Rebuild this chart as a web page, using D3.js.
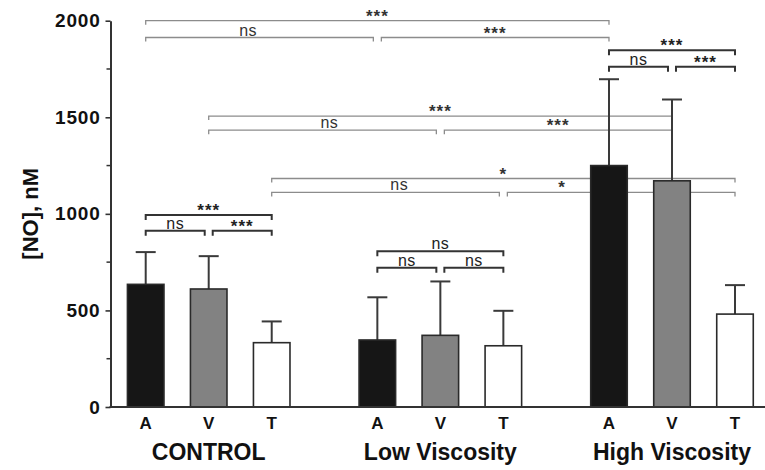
<!DOCTYPE html>
<html>
<head>
<meta charset="utf-8">
<script src="https://cdn.jsdelivr.net/npm/d3@7"></script>
<style>
  body { margin: 0; background: #fff; }
  text { font-family: 'Liberation Sans', Arial, sans-serif; }
</style>
</head>
<body>
<svg width="765" height="470"></svg>
<script>
const groups = ['CONTROL', 'Low Viscosity', 'High Viscosity'];
const vessels = ['A', 'V', 'T'];
const meanNO = [
	[635, 611, 333],
	[347, 371, 317],
	[1250, 1171, 481]
];
const sdNO = [
	[167, 170, 110],
	[221, 279, 181],
	[447, 421, 150]
];
const yTicks = [0, 500, 1000, 1500, 2000];
const yMinorTicks = [250, 750, 1250, 1750];

// [from, to, level (nM), label, label position along bracket]
const comparisons = [
	['CONTROL A', 'High Viscosity A', 2000, '***'],
	['CONTROL A', 'Low Viscosity A', 1913, 'ns', 0.45],
	['Low Viscosity A', 'High Viscosity A', 1913, '***'],
	['CONTROL V', 'High Viscosity V', 1506, '***'],
	['CONTROL V', 'Low Viscosity V', 1433, 'ns', 0.53],
	['Low Viscosity V', 'High Viscosity V', 1433, '***'],
	['CONTROL T', 'High Viscosity T', 1183, '*'],
	['CONTROL T', 'Low Viscosity T', 1111, 'ns', 0.56],
	['Low Viscosity T', 'High Viscosity T', 1111, '*', 0.24],
	['CONTROL A', 'CONTROL T', 994, '***'],
	['CONTROL A', 'CONTROL V', 912, 'ns'],
	['CONTROL V', 'CONTROL T', 912, '***'],
	['Low Viscosity A', 'Low Viscosity T', 807, 'ns'],
	['Low Viscosity A', 'Low Viscosity V', 721, 'ns'],
	['Low Viscosity V', 'Low Viscosity T', 721, 'ns'],
	['High Viscosity A', 'High Viscosity T', 1847, '***'],
	['High Viscosity A', 'High Viscosity V', 1761, 'ns'],
	['High Viscosity V', 'High Viscosity T', 1761, '***']
];

const fills = { A: '#161616', V: '#828282', T: '#ffffff' };

const svg = d3.select('svg');
const width = +svg.attr('width');

const axisX = 110.5;

const y = d3.scaleLinear().domain([0, 2000]).range([407, 20.7]);

const xGroup = d3.scaleBand().domain(groups).range([114.2, 766.5]).paddingInner(0.184).paddingOuter(0);
const xBar = d3.scaleBand().domain(vessels).range([0, xGroup.bandwidth()]).paddingInner(0.42).paddingOuter(0.21);

const bars = [];
groups.forEach((g, gi) => {
	vessels.forEach((v, vi) => {
		bars.push({ group: g, vessel: v, key: g + ' ' + v, mean: meanNO[gi][vi], sd: sdNO[gi][vi] });
	});
});
const barCenter = key => {
	const b = bars.find(d => d.key === key);
	return xGroup(b.group) + xBar(b.vessel) + xBar.bandwidth() / 2;
};

// significance brackets (drawn first so bars sit on top)
const bracketG = svg.append('g');
comparisons.forEach(c => {
	const [from, to, level, label, at] = c;
	const inner = from.split(' ').slice(0, -1).join(' ') === to.split(' ').slice(0, -1).join(' ');
	let x1 = barCenter(from);
	let x2 = barCenter(to);
	// split shared ends at same level
	if (comparisons.some(o => o !== c && o[2] === level && o[1] === from)) x1 += 4;
	if (comparisons.some(o => o !== c && o[2] === level && o[0] === to)) x2 -= 4;
	const yy = y(level);
	const tick = inner ? 5 : 4;
	bracketG.append('path')
		.attr('d', `M${x1},${yy + tick}V${yy}H${x2}V${yy + tick}`)
		.attr('fill', 'none')
		.attr('stroke', inner ? '#333' : '#8c8c8c')
		.attr('stroke-width', inner ? 2 : 1.3);
	const lx = x1 + (x2 - x1) * (at === undefined ? 0.5 : at);
	const stars = label !== 'ns';
	bracketG.append('text')
		.attr('x', lx)
		.attr('y', stars ? yy + 1 : yy - 2)
		.attr('text-anchor', 'middle')
		.attr('font-size', stars ? 17 : 16)
		.attr('font-weight', stars ? 'bold' : 'normal')
		.attr('letter-spacing', stars ? 1 : 0.5)
		.attr('fill', inner ? '#222' : '#333')
		.text(label);
});

// error bars
const errG = svg.append('g');
bars.forEach(d => {
	const cx = barCenter(d.key);
	errG.append('line')
		.attr('x1', cx).attr('x2', cx)
		.attr('y1', y(d.mean)).attr('y2', y(d.mean + d.sd))
		.attr('stroke', '#3a3a3a').attr('stroke-width', 2);
	errG.append('line')
		.attr('x1', cx - 10).attr('x2', cx + 10)
		.attr('y1', y(d.mean + d.sd)).attr('y2', y(d.mean + d.sd))
		.attr('stroke', '#3a3a3a').attr('stroke-width', 2);
});

// bars
svg.append('g')
	.selectAll('rect')
	.data(bars)
	.join('rect')
	.attr('x', d => xGroup(d.group) + xBar(d.vessel))
	.attr('width', xBar.bandwidth())
	.attr('y', d => y(d.mean))
	.attr('height', d => y(0) - y(d.mean))
	.attr('fill', d => fills[d.vessel])
	.attr('stroke', '#2a2a2a')
	.attr('stroke-width', 1.6);

// y axis
const yAxis = svg.append('g')
	.attr('transform', `translate(${axisX},0)`)
	.call(d3.axisLeft(y).tickValues(yTicks).tickFormat(d3.format('d')).tickSize(5).tickSizeOuter(0).tickPadding(5));
yAxis.select('.domain').attr('stroke', '#333').attr('stroke-width', 2);
yAxis.selectAll('.tick line').attr('stroke', '#333').attr('stroke-width', 1.6);
yAxis.selectAll('.tick text')
	.attr('font-family', "'Liberation Sans', Arial, sans-serif")
	.attr('font-size', 19)
	.attr('font-weight', 'bold')
	.attr('letter-spacing', 0.8)
	.attr('fill', '#111');

svg.append('g')
	.selectAll('line')
	.data(yMinorTicks)
	.join('line')
	.attr('x1', axisX - 4).attr('x2', axisX)
	.attr('y1', d => y(d)).attr('y2', d => y(d))
	.attr('stroke', '#333').attr('stroke-width', 1.5);

// x axis line
svg.append('line')
	.attr('x1', axisX - 1).attr('x2', width)
	.attr('y1', y(0)).attr('y2', y(0))
	.attr('stroke', '#333').attr('stroke-width', 2);

// vessel labels
svg.append('g')
	.selectAll('text')
	.data(bars)
	.join('text')
	.attr('x', d => barCenter(d.key))
	.attr('y', 429)
	.attr('text-anchor', 'middle')
	.attr('font-size', 17)
	.attr('font-weight', 'bold')
	.attr('fill', '#111')
	.text(d => d.vessel);

// group labels
svg.append('g')
	.selectAll('text')
	.data(groups)
	.join('text')
	.attr('x', d => xGroup(d) + xGroup.bandwidth() / 2)
	.attr('y', 460)
	.attr('text-anchor', 'middle')
	.attr('font-size', 23)
	.attr('font-weight', 'bold')
	.attr('fill', '#111')
	.text(d => d);

// y title
svg.append('text')
	.attr('transform', `translate(38, ${y(1000)}) rotate(-90)`)
	.attr('text-anchor', 'middle')
	.attr('font-size', 22)
	.attr('font-weight', 'bold')
	.attr('fill', '#111')
	.text('[NO], nM');
</script>
</body>
</html>
